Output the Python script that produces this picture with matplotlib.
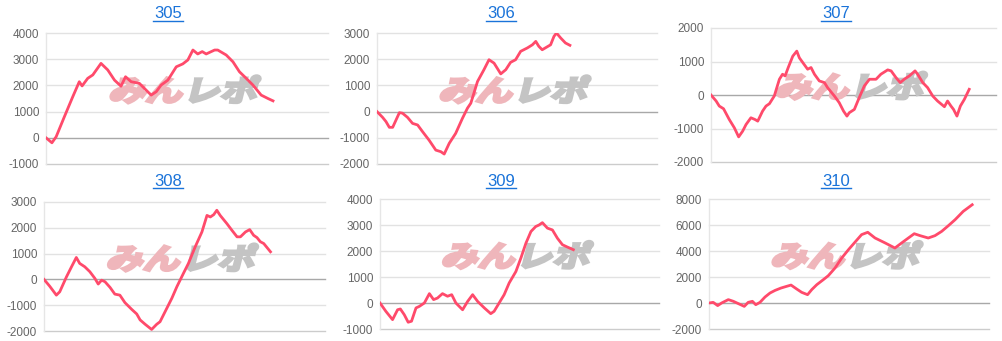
import numpy as np
import matplotlib
matplotlib.use("Agg")
import matplotlib.pyplot as plt
from matplotlib.textpath import TextPath
from matplotlib.patches import PathPatch
from matplotlib.font_manager import FontProperties
import matplotlib.transforms as mtransforms

# machine numbers
titles = ['305', '306', '307', '308', '309', '310']

# x: progress through the day (0-100 = full axis width), y: coin difference
x305 = [0, 2.1, 3.6, 6.5, 9.5, 11.8, 12.8, 14.8, 16.6, 19.5, 21.9, 24.3, 26.6, 28.2, 30.2, 33.1,
        35.5, 37.3, 39.1, 40.8, 43.2, 46.2, 48.5, 50.3, 52.1, 53.8, 55.4, 56.8, 59.8, 60.9, 63.9,
        66.3, 68.6, 71.0, 73.4, 76.3, 78.7, 80.5]
y305 = [0, -190, 40, 800, 1570, 2140, 1980, 2270, 2400, 2840, 2590, 2200, 1970, 2330, 2140, 2080,
        1820, 1630, 1760, 2010, 2200, 2710, 2820, 2970, 3350, 3200, 3290, 3200, 3350, 3350, 3160,
        2900, 2520, 2270, 2010, 1630, 1500, 1410]

x306 = [0, 2.0, 3.2, 4.4, 5.6, 8.0, 9.1, 10.9, 12.7, 14.5, 16.3, 18.6, 21.0, 22.8, 24.0, 25.8,
        28.1, 30.5, 32.3, 33.5, 35.9, 38.2, 40.0, 41.8, 44.2, 46.0, 47.7, 49.5, 51.3, 53.7, 55.5,
        56.7, 57.8, 59.0, 62.0, 63.2, 64.1, 65.6, 67.3, 68.9]
y306 = [0, -220, -380, -600, -600, -40, -60, -220, -450, -510, -770, -1090, -1470, -1530, -1620,
        -1210, -830, -260, 130, 320, 1150, 1600, 1980, 1850, 1440, 1600, 1880, 1980, 2300, 2430,
        2550, 2680, 2490, 2360, 2550, 2870, 3000, 2810, 2620, 2530]

x307 = [0, 1.8, 2.9, 4.4, 6.4, 8.2, 9.7, 11.1, 12.3, 14.0, 15.4, 16.4, 18.1, 19.3, 20.5, 22.2,
        24.0, 25.1, 26.0, 27.1, 28.7, 30.1, 31.0, 32.7, 33.9, 35.1, 36.3, 38.0, 39.8, 40.9, 43.3,
        45.0, 46.5, 47.7, 48.5, 50.3, 52.0, 53.8, 55.6, 57.9, 59.6, 62.0, 63.2, 64.9, 66.4, 67.8,
        69.6, 71.6, 72.5, 74.3, 76.0, 77.8, 79.5, 81.9, 83.0, 84.2, 85.1, 86.3, 87.5, 88.9, 90.6]
y307 = [0, -180, -330, -410, -730, -980, -1250, -1080, -880, -680, -730, -780, -480, -330, -260,
        -30, 470, 620, 570, 820, 1160, 1310, 1110, 910, 770, 820, 620, 420, 370, 220, -30,
        -230, -480, -630, -530, -430, -80, 270, 470, 470, 620, 750, 720, 520, 370, 470,
        570, 720, 620, 370, 220, -30, -180, -350, -180, -330, -430, -630, -330, -130, 170]

x308 = [0, 2.0, 4.4, 5.6, 8.0, 9.8, 11.5, 12.7, 14.5, 16.3, 18.1, 19.3, 20.5, 21.7, 23.5, 25.2,
        27.0, 28.8, 31.2, 33.0, 34.2, 36.0, 38.3, 40.1, 41.3, 43.1, 45.5, 47.3, 49.6, 51.4, 53.8,
        56.2, 58.0, 59.2, 60.4, 61.5, 62.7, 65.1, 66.9, 68.7, 69.9, 71.7, 73.2, 74.6, 75.8, 77.0,
        78.2, 80.6]
y308 = [0, -260, -610, -480, 100, 490, 850, 620, 490, 300, 40, -180, -30, -90, -310, -570,
        -610, -900, -1160, -1340, -1570, -1740, -1940, -1740, -1640, -1250, -730, -280, 230, 620, 1260,
        1840, 2480, 2420, 2510, 2680, 2480, 2160, 1900, 1650, 1650, 1840, 1930, 1710, 1620, 1460,
        1390, 1070]

x309 = [0, 2.1, 4.5, 6.3, 7.3, 8.7, 10.1, 11.3, 12.9, 14.1, 15.9, 17.7, 19.2, 20.6, 22.4, 24.2,
        25.7, 27.2, 29.6, 31.4, 33.2, 35.0, 37.4, 39.7, 40.9, 42.7, 44.5, 46.3, 48.7, 50.5, 52.3,
        54.1, 55.8, 57.0, 58.2, 60.0, 61.8, 63.6, 65.4, 67.2, 69.3]
y309 = [0, -320, -640, -260, -230, -450, -740, -700, -190, -130, 0, 360, 130, 190, 360, 260,
        320, 0, -260, 60, 320, 60, -190, -410, -320, 0, 320, 770, 1210, 1730, 2300,
        2750, 2940, 3000, 3090, 2880, 2810, 2490, 2240, 2150, 2050]

x310 = [0, 1.5, 3.1, 4.5, 6.9, 8.7, 10.5, 12.6, 14.0, 15.5, 16.7, 18.2, 20.0, 21.8, 23.6, 25.7,
        27.7, 29.3, 31.3, 33.1, 35.2, 36.7, 38.5, 40.8, 42.6, 45.0, 47.4, 49.8, 52.1, 54.5, 56.7,
        59.3, 62.9, 66.4, 68.8, 71.2, 73.3, 75.4, 78.3, 80.7, 83.1, 85.5, 87.9, 90.8, 94.0]
y310 = [0, 50, -200, 0, 260, 130, -50, -260, 50, 130, -130, 50, 460, 770, 970, 1150,
        1280, 1380, 1080, 820, 640, 1030, 1410, 1790, 2100, 2690, 3460, 4100, 4670, 5260, 5440,
        5000, 4620, 4230, 4620, 5000, 5330, 5180, 5000, 5180, 5510, 5950, 6410, 7050, 7560]

xs = [x305, x306, x307, x308, x309, x310]
ys = [y305, y306, y307, y308, y309, y310]

# y tick ranges per panel
yticks = [
    [-1000, 0, 1000, 2000, 3000, 4000],
    [-2000, -1000, 0, 1000, 2000, 3000],
    [-2000, -1000, 0, 1000, 2000],
    [-2000, -1000, 0, 1000, 2000, 3000],
    [-1000, 0, 1000, 2000, 3000, 4000],
    [-2000, 0, 2000, 4000, 6000, 8000],
]

W, H = 1002, 341
# plot areas in pixels: left, right, top, bottom
boxes = [
    (46, 328, 33, 164),
    (377, 657, 33, 164),
    (711, 996, 28, 162),
    (44, 325, 202, 331),
    (380, 659, 199, 329),
    (709, 989, 199, 329),
]
title_pos = [(168, 14), (501, 14), (836, 14), (168, 181), (501, 181), (836, 181)]

LINE = '#ff4a6b'
TITLE = '#1a73d9'

plt.rcParams['font.family'] = ['Liberation Sans', 'DejaVu Sans']

fig = plt.figure(figsize=(W / 100, H / 100), dpi=100)
fig.patch.set_facecolor('white')

wm_font = FontProperties(family='Noto Sans CJK JP', weight='bold')


def watermark(ax):
    # faint "みんレポ" logo in the middle of the plot
    parts = [('みん', '#efb6bb'), ('レポ', '#c4c4c4')]
    em_x = 0.37
    em_y = 0.29
    xoff = 0.0
    paths = []
    for txt, col in parts:
        tp = TextPath((0, 0), txt, size=1, prop=wm_font)
        paths.append((tp, col, xoff))
        xoff += tp.get_extents().x1 + 0.06
    total = xoff - 0.06
    for tp, col, xo in paths:
        tr = (mtransforms.Affine2D().translate(xo - total / 2, -0.4)
              .scale(em_x, em_y).skew_deg(14, 0)
              + fig.dpi_scale_trans
              + mtransforms.ScaledTranslation(0.49, 0.57, ax.transAxes))
        patch = PathPatch(tp, facecolor=col, edgecolor=col, linewidth=2.2,
                          joinstyle='miter', transform=tr, zorder=1)
        ax.add_artist(patch)


for i in range(6):
    l, r, t, b = boxes[i]
    ax = fig.add_axes([l / W, 1 - b / H, (r - l) / W, (b - t) / H])
    ax.set_facecolor('white')
    watermark(ax)
    ax.plot(xs[i], ys[i], color=LINE, linewidth=2.0, solid_joinstyle='round', zorder=3)
    ax.set_xlim(0, 100)
    ax.set_ylim(yticks[i][0], yticks[i][-1])
    ax.set_yticks(yticks[i])
    ax.set_yticklabels([str(v) for v in yticks[i]])
    ax.set_xticks([])
    for v in yticks[i]:
        if v == 0:
            c = '#a8a8a8'
        elif v == yticks[i][0]:
            c = '#cccccc'
        else:
            c = '#e2e2e2'
        ax.axhline(v, color=c, linewidth=1, zorder=0.5, clip_on=False)
    for s in ['top', 'right', 'bottom']:
        ax.spines[s].set_visible(False)
    ax.spines['left'].set_color('#e6e6e6')
    ax.spines['left'].set_linewidth(1)
    ax.tick_params(axis='y', length=0, pad=5, labelsize=8.5, labelcolor='#666666')

    tx, ty = title_pos[i]
    fig.text(tx / W, 1 - ty / H, titles[i], ha='center', va='center',
             fontsize=12, color=TITLE)
    # underline (link style)
    fig.add_artist(plt.Line2D([(tx - 15) / W, (tx + 15) / W],
                              [1 - (ty + 7) / H, 1 - (ty + 7) / H],
                              color=TITLE, linewidth=1))

fig.savefig('out.png', dpi=100, facecolor='white')
